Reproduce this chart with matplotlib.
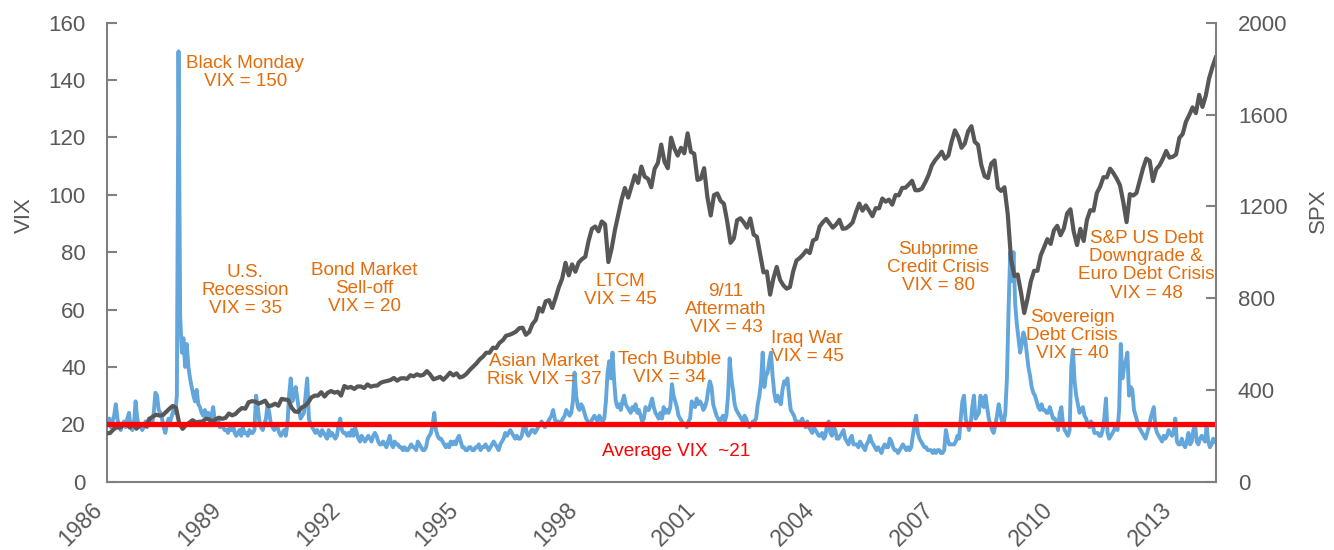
import numpy as np
import matplotlib
matplotlib.use('Agg')
import matplotlib.pyplot as plt
import matplotlib.transforms as mtransforms

plt.rcParams['font.family'] = ['Liberation Sans', 'DejaVu Sans']

first_year = 1986
last_year = 2013
avg_vix = 20
vix_max = 160
spx_max = 2000

# VIX (VXO before 1990), two readings per month
vix = [
    20, 22, 19, 21, 23, 27, 22, 19, 18, 20, 21, 19, 22, 24, 19, 18, 20, 28, 22, 19, 20, 18, 19, 21,  # 1986
    19, 22, 21, 20, 24, 31, 30, 25, 24, 22, 19, 17, 20, 22, 21, 23, 25, 24, 30, 150, 58, 45, 50, 40,  # 1987
    48, 40, 36, 33, 30, 28, 32, 27, 26, 24, 23, 25, 22, 24, 21, 23, 26, 21, 20, 22, 19, 20, 19, 18,  # 1988
    18, 17, 19, 18, 20, 17, 16, 17, 18, 16, 19, 17, 17, 16, 18, 17, 17, 18, 30, 26, 21, 19, 18, 20,  # 1989
    22, 27, 24, 20, 19, 18, 20, 19, 17, 16, 17, 18, 16, 20, 30, 36, 28, 30, 33, 29, 25, 22, 23, 24,  # 1990
    30, 36, 22, 20, 19, 18, 17, 18, 17, 16, 18, 17, 16, 15, 18, 16, 17, 16, 15, 16, 20, 22, 18, 17,  # 1991
    17, 16, 17, 16, 18, 16, 19, 17, 15, 14, 16, 15, 14, 15, 16, 15, 14, 16, 17, 16, 14, 13, 13, 14,  # 1992
    13, 12, 14, 16, 13, 12, 14, 13, 13, 12, 12, 11, 12, 11, 11, 12, 13, 12, 12, 11, 14, 13, 12, 11,  # 1993
    11, 12, 15, 16, 17, 20, 24, 18, 16, 15, 15, 14, 13, 12, 13, 12, 14, 13, 14, 13, 15, 16, 14, 12,  # 1994
    12, 11, 11, 12, 12, 11, 11, 12, 12, 13, 11, 12, 12, 13, 12, 11, 12, 13, 14, 13, 12, 11, 13, 14,  # 1995
    15, 17, 16, 17, 18, 17, 16, 15, 16, 15, 15, 16, 19, 20, 17, 16, 17, 18, 18, 17, 18, 19, 20, 21,  # 1996
    20, 19, 20, 21, 22, 23, 25, 22, 20, 21, 20, 21, 22, 23, 25, 24, 23, 24, 28, 38, 30, 26, 25, 27,  # 1997
    26, 24, 22, 21, 20, 21, 22, 23, 22, 21, 23, 22, 21, 22, 28, 38, 42, 36, 45, 35, 28, 26, 27, 25,  # 1998
    28, 30, 27, 26, 25, 24, 26, 25, 27, 24, 25, 23, 21, 22, 26, 25, 25, 27, 29, 26, 24, 23, 22, 24,  # 1999
    22, 26, 24, 25, 24, 26, 34, 30, 28, 26, 23, 22, 21, 20, 20, 19, 21, 22, 28, 27, 26, 29, 27, 28,  # 2000
    27, 25, 26, 28, 32, 35, 33, 27, 25, 23, 22, 21, 22, 23, 21, 23, 30, 43, 36, 32, 27, 25, 24, 23,  # 2001
    22, 21, 23, 22, 20, 19, 20, 21, 21, 22, 27, 30, 35, 45, 33, 37, 38, 42, 45, 37, 31, 28, 30, 28,  # 2002
    27, 32, 35, 34, 36, 30, 25, 24, 23, 21, 21, 20, 21, 22, 20, 19, 21, 19, 18, 17, 19, 18, 17, 16,  # 2003
    16, 17, 15, 16, 20, 21, 17, 16, 19, 18, 15, 15, 16, 17, 18, 15, 14, 13, 15, 16, 13, 13, 13, 12,  # 2004
    14, 13, 12, 11, 13, 14, 16, 14, 13, 12, 11, 12, 11, 10, 12, 13, 12, 12, 15, 14, 12, 11, 11, 10,  # 2005
    11, 12, 13, 12, 11, 12, 11, 12, 16, 20, 23, 17, 15, 14, 13, 12, 12, 11, 11, 11, 10, 11, 10, 11,  # 2006
    11, 10, 10, 11, 18, 15, 13, 13, 13, 13, 14, 16, 15, 22, 28, 30, 22, 20, 18, 20, 26, 30, 22, 23,  # 2007
    24, 30, 27, 26, 30, 26, 22, 20, 18, 17, 20, 23, 27, 24, 21, 20, 24, 36, 60, 80, 70, 80, 62, 55,  # 2008
    50, 45, 48, 52, 50, 45, 40, 37, 33, 31, 30, 28, 26, 25, 27, 25, 25, 24, 24, 26, 24, 22, 22, 21,  # 2009
    18, 24, 26, 20, 18, 17, 16, 18, 40, 46, 35, 30, 27, 24, 25, 26, 23, 22, 20, 19, 21, 20, 17, 17,  # 2010
    17, 16, 16, 18, 22, 29, 17, 15, 16, 17, 18, 20, 18, 25, 48, 36, 40, 42, 45, 30, 33, 32, 25, 23,  # 2011
    21, 19, 18, 17, 16, 15, 17, 19, 22, 24, 26, 19, 17, 16, 15, 14, 16, 15, 16, 18, 17, 16, 17, 22,  # 2012
    14, 13, 13, 15, 13, 12, 14, 17, 13, 14, 18, 20, 14, 13, 15, 16, 15, 14, 19, 14, 12, 13, 15, 14,  # 2013
]

# S&P 500 month-end levels, starting with the level at the start of 1986
spx = [
    211,
    212, 227, 238, 235, 247, 251, 236, 253, 231, 244, 249, 242,  # 1986
    274, 284, 292, 288, 290, 304, 318, 330, 322, 252, 230, 247,  # 1987
    257, 268, 259, 261, 262, 274, 272, 262, 272, 279, 274, 278,  # 1988
    297, 289, 295, 310, 321, 318, 346, 351, 349, 340, 346, 353,  # 1989
    329, 332, 340, 331, 361, 358, 356, 323, 306, 304, 322, 330,  # 1990
    344, 367, 375, 375, 390, 371, 388, 395, 388, 392, 375, 417,  # 1991
    409, 413, 404, 415, 415, 408, 424, 414, 418, 419, 431, 436,  # 1992
    439, 443, 452, 440, 450, 451, 448, 464, 459, 468, 462, 466,  # 1993
    482, 467, 446, 451, 457, 444, 458, 475, 463, 472, 454, 459,  # 1994
    470, 487, 501, 515, 533, 545, 562, 562, 584, 582, 605, 616,  # 1995
    636, 640, 646, 654, 669, 671, 640, 652, 687, 705, 757, 741,  # 1996
    786, 791, 757, 801, 848, 885, 954, 899, 947, 915, 955, 970,  # 1997
    980, 1049, 1102, 1112, 1091, 1134, 1121, 957, 1017, 1098, 1164, 1229,  # 1998
    1280, 1238, 1286, 1335, 1302, 1373, 1329, 1320, 1283, 1363, 1389, 1469,  # 1999
    1394, 1366, 1499, 1452, 1421, 1455, 1431, 1518, 1437, 1429, 1315, 1320,  # 2000
    1366, 1240, 1160, 1249, 1256, 1224, 1211, 1134, 1041, 1060, 1139, 1148,  # 2001
    1130, 1107, 1147, 1077, 1067, 990, 912, 916, 815, 886, 936, 880,  # 2002
    856, 841, 848, 917, 964, 975, 990, 1008, 996, 1051, 1058, 1112,  # 2003
    1131, 1145, 1126, 1107, 1121, 1141, 1102, 1104, 1115, 1130, 1174, 1212,  # 2004
    1181, 1204, 1181, 1157, 1192, 1191, 1234, 1220, 1229, 1207, 1249, 1248,  # 2005
    1280, 1281, 1295, 1311, 1270, 1270, 1277, 1304, 1336, 1378, 1401, 1418,  # 2006
    1438, 1407, 1421, 1482, 1531, 1503, 1455, 1474, 1527, 1549, 1481, 1468,  # 2007
    1379, 1331, 1323, 1386, 1400, 1280, 1267, 1283, 1166, 969, 896, 903,  # 2008
    826, 735, 798, 873, 919, 919, 987, 1021, 1057, 1036, 1096, 1115,  # 2009
    1074, 1104, 1169, 1187, 1089, 1031, 1102, 1049, 1141, 1183, 1181, 1258,  # 2010
    1286, 1327, 1326, 1364, 1345, 1321, 1292, 1219, 1131, 1253, 1247, 1258,  # 2011
    1312, 1366, 1408, 1398, 1310, 1362, 1379, 1407, 1441, 1412, 1416, 1426,  # 2012
    1498, 1515, 1569, 1598, 1631, 1606, 1686, 1633, 1682, 1757, 1806, 1848,  # 2013
]

events = [
    'Black Monday\nVIX = 150',
    'U.S.\nRecession\nVIX = 35',
    'Bond Market\nSell-off\nVIX = 20',
    'Asian Market\nRisk VIX = 37',
    'LTCM\nVIX = 45',
    'Tech Bubble\nVIX = 34',
    '9/11\nAftermath\nVIX = 43',
    'Iraq War\nVIX = 45',
    'Subprime\nCredit Crisis\nVIX = 80',
    'Sovereign\nDebt Crisis\nVIX = 40',
    'S&P US Debt\nDowngrade &\nEuro Debt Crisis\nVIX = 48',
]
event_x = [1989.5, 1989.5, 1992.5, 1997.05, 1998.97, 2000.22, 2001.64, 2003.68, 2007.0, 2010.38, 2012.25]
event_y = [142.7, 66.5, 67.2, 38.9, 66.8, 39.6, 59.9, 46.9, 74.8, 51.1, 75.2]

years = list(range(first_year, last_year + 1))
n_months = len(years) * 12
vix_x = first_year + (np.arange(2 * n_months) + 0.5) / 24.0
spx_x = first_year + np.arange(n_months + 1) / 12.0

grey = '#595959'
orange = '#E46C0A'

fig = plt.figure(figsize=(13.34, 5.5), dpi=100)
ax = fig.add_axes([0.080, 0.1242, 0.8313, 0.8345])
ax2 = ax.twinx()

ax.plot(vix_x, vix, color='#62A6DB', lw=2.8, solid_joinstyle='round')
ax2.plot(spx_x, spx, color='#575757', lw=3.0, solid_joinstyle='round')
ax2.axhline(avg_vix * spx_max / vix_max, color='#FF0000', lw=3.8)

ax.set_xlim(first_year, last_year + 1)
ax.set_ylim(0, vix_max)
ax2.set_ylim(0, spx_max)
ax.set_yticks(np.arange(0, 161, 20))
ax2.set_yticks(np.arange(0, 2001, 400))
ax.set_xticks(years[::3])
ax.set_xticklabels([str(y) for y in years[::3]], rotation=45, ha='right', va='top')
shift = mtransforms.ScaledTranslation(17 / 100, 0, fig.dpi_scale_trans)
for lab in ax.get_xticklabels():
    lab.set_transform(lab.get_transform() + shift)

for a in (ax, ax2):
    for side in a.spines:
        a.spines[side].set_color('#808080')
        a.spines[side].set_linewidth(1.5)
    a.spines['top'].set_visible(False)
ax.spines['right'].set_visible(False)
ax2.spines['left'].set_visible(False)
ax2.spines['bottom'].set_visible(False)

ax.tick_params(axis='y', direction='in', length=7, width=1.5, color='#808080',
               labelsize=16, labelcolor=grey, pad=15)
ax2.tick_params(axis='y', direction='in', length=7, width=1.5, color='#808080',
                labelsize=16, labelcolor=grey, pad=16)
ax.tick_params(axis='x', length=0, labelsize=16.5, labelcolor=grey, pad=12)

ax.set_ylabel('VIX', fontsize=16, color=grey)
ax.yaxis.set_label_coords(-0.065, 0.58)
ax2.set_ylabel('SPX', fontsize=16, color=grey)
ax2.yaxis.set_label_coords(1.083, 0.59)

for label, x, y in zip(events, event_x, event_y):
    ax2.text(x, y * spx_max / vix_max, label, color=orange, fontsize=13.6,
             ha='center', va='center', multialignment='center', linespacing=1.08, zorder=5)
ax2.text(2000.37, 10.4 * spx_max / vix_max, 'Average VIX  ~21', color='#FF0000',
         fontsize=13.6, ha='center', va='center')

fig.savefig('out.png', dpi=100)
